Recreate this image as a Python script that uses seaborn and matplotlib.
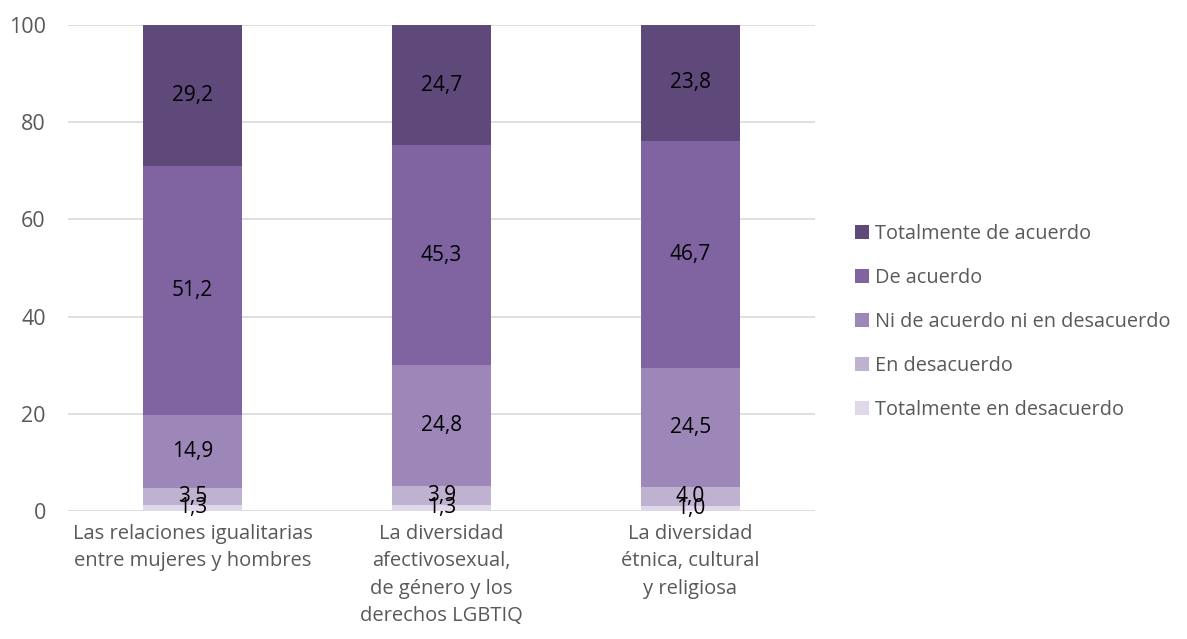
import matplotlib
matplotlib.use("Agg")
import matplotlib.pyplot as plt
import seaborn as sns
import pandas as pd
import numpy as np
from matplotlib.patches import Patch

categories = ["Las relaciones igualitarias\nentre mujeres y hombres",
              "La diversidad\nafectivosexual,\nde género y los\nderechos LGBTIQ",
              "La diversidad\nétnica, cultural\ny religiosa"]
series = ["Totalmente en desacuerdo", "En desacuerdo", "Ni de acuerdo ni en desacuerdo",
          "De acuerdo", "Totalmente de acuerdo"]
tot_desacuerdo = [1.3, 1.3, 1.0]
desacuerdo = [3.5, 3.9, 4.0]
ni_ni = [14.9, 24.8, 24.5]
de_acuerdo = [51.2, 45.3, 46.7]
tot_acuerdo = [29.2, 24.7, 23.8]
colors = ["#DFD8E8", "#BFB1D0", "#9D87B8", "#8064A2", "#5F497A"]

sns.set_theme(style="white")
plt.rcParams['font.family'] = ['Open Sans', 'DejaVu Sans']

values = [tot_desacuerdo, desacuerdo, ni_ni, de_acuerdo, tot_acuerdo]
df = pd.DataFrame({s: v for s, v in zip(series, values)}, index=categories)
cum = df.cumsum(axis=1)

fig = plt.figure(figsize=(11.87, 6.39), dpi=100)
ax = fig.add_axes([0.0573, 0.2003, 0.6293, 0.7606])

for s, c in reversed(list(zip(series, colors))):
    d = pd.DataFrame({"cat": categories, "val": cum[s].values})
    sns.barplot(data=d, x="cat", y="val", color=c, width=0.4, ax=ax,
                saturation=1, zorder=2, errorbar=None, linewidth=0, edgecolor="none")

for i, cat in enumerate(categories):
    bottom = 0
    for s in series:
        v = df.loc[cat, s]
        ax.text(i, bottom + v / 2, f"{v:.1f}".replace(".", ","), ha="center", va="center",
                fontsize=15, color="black", zorder=5)
        bottom += v

ax.set_ylim(0, 100)
ax.set_xlim(-0.5, 2.5)
ax.set_yticks([0, 20, 40, 60, 80, 100])
ax.yaxis.grid(True, color="#D9D9D9", linewidth=1.2, zorder=0)
ax.set_axisbelow(True)
for sp in ax.spines.values():
    sp.set_visible(False)
ax.set_xlabel("")
ax.set_ylabel("")
ax.tick_params(axis="y", labelsize=15.5, labelcolor="#595959", length=0, pad=16)
ax.tick_params(axis="x", labelsize=14.5, labelcolor="#595959", length=0, pad=9)
for lbl in ax.get_xticklabels():
    lbl.set_linespacing(1.5)
    lbl.set_va("top")

handles = [Patch(facecolor=c, edgecolor="none") for c in reversed(colors)]
fig.legend(handles, list(reversed(series)), loc="center left",
           bbox_to_anchor=(0.705, 0.496), frameon=False, fontsize=14.3,
           labelcolor="#595959", handlelength=0.7, handleheight=0.7,
           handletextpad=0.3, labelspacing=1.2)

fig.savefig("out.png", dpi=100)
